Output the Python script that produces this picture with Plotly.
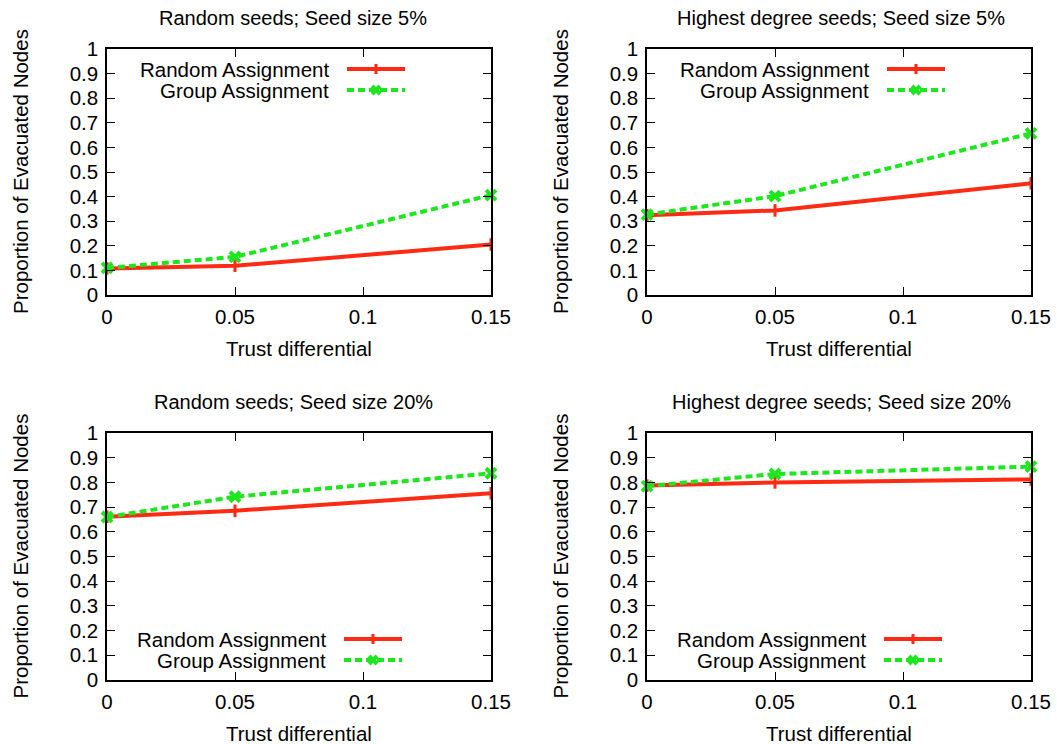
import plotly.graph_objects as go

# ---- data ----
trust = [0, 0.05, 0.15]
x_ticks = [0, 0.05, 0.1, 0.15]
x_tick_labels = ["0", "0.05", "0.1", "0.15"]
y_ticks = [0, 0.1, 0.2, 0.3, 0.4, 0.5, 0.6, 0.7, 0.8, 0.9, 1]
y_tick_labels = ["0", "0.1", "0.2", "0.3", "0.4", "0.5", "0.6", "0.7", "0.8", "0.9", "1"]

rand5_random = [0.108, 0.119, 0.205]
rand5_group = [0.110, 0.155, 0.406]
high5_random = [0.324, 0.344, 0.454]
high5_group = [0.327, 0.402, 0.657]
rand20_random = [0.661, 0.685, 0.756]
rand20_group = [0.660, 0.742, 0.837]
high20_random = [0.787, 0.800, 0.812]
high20_group = [0.785, 0.834, 0.864]

titles = ["Random seeds; Seed size 5%", "Highest degree seeds; Seed size 5%",
          "Random seeds; Seed size 20%", "Highest degree seeds; Seed size 20%"]
series_names = ["Random Assignment", "Group Assignment"]
x_title = "Trust differential"
y_title = "Proportion of Evacuated Nodes"

W, H = 1057, 744
RED = "#ff2a14"
GREEN = "#1ee61e"
FONT = "Liberation Sans, Arial, sans-serif"
FS = 20.5


def px(x):
    return x / W


def py(y):
    return 1 - y / H


# panel pixel boxes: (left, right, top, bottom)
boxes = [(107, 491, 49, 295), (647, 1031, 49, 295),
         (107, 491, 433, 680), (647, 1031, 433, 680)]
panel_data = [(rand5_random, rand5_group), (high5_random, high5_group),
              (rand20_random, rand20_group), (high20_random, high20_group)]
# legend anchor: (text right edge x, first row y)
legend_pos = [(331, 69), (871, 69), (328, 639), (868, 639)]
title_shift = [-6, 2, -6, 2]

fig = go.Figure()
annotations = []
shapes = []

for i, ((l, r, t, b), (rnd, grp)) in enumerate(zip(boxes, panel_data)):
    n = "" if i == 0 else str(i + 1)
    xa, ya = "x" + n, "y" + n
    fig.add_trace(go.Scatter(
        x=trust, y=rnd, xaxis=xa, yaxis=ya, mode="lines+markers",
        name=series_names[0], showlegend=False, cliponaxis=False,
        line=dict(color=RED, width=4),
        marker=dict(symbol="line-ns", size=9, color=RED, line=dict(color=RED, width=3))))
    fig.add_trace(go.Scatter(
        x=trust, y=grp, xaxis=xa, yaxis=ya, mode="lines+markers",
        name=series_names[1], showlegend=False, cliponaxis=False,
        line=dict(color=GREEN, width=4, dash="7px,4px"),
        marker=dict(symbol="x-thin", size=10, color=GREEN, line=dict(color=GREEN, width=4))))

    axis_common = dict(showline=True, linecolor="black", linewidth=1.5, mirror="ticks",
                       ticks="inside", ticklen=8, tickwidth=1.2, tickcolor="black",
                       showgrid=False, zeroline=False, automargin=False,
                       tickfont=dict(family=FONT, size=FS, color="black"))
    fig.update_layout(**{
        ("xaxis" + n): dict(domain=[px(l), px(r)], anchor=ya, range=[0, 0.15],
                            tickvals=x_ticks, ticktext=x_tick_labels,
                            ticklabelstandoff=3, **axis_common),
        ("yaxis" + n): dict(domain=[py(b), py(t)], anchor=xa, range=[0, 1],
                            tickvals=y_ticks, ticktext=y_tick_labels,
                            ticklabelstandoff=3, **axis_common),
    })

    cx = (l + r) / 2
    annotations.append(dict(text=titles[i], x=px(cx + title_shift[i]), y=py(t - 31),
                            xref="paper", yref="paper", showarrow=False,
                            xanchor="center", yanchor="middle",
                            font=dict(family=FONT, size=20, color="black")))
    annotations.append(dict(text=x_title, x=px(cx), y=py(b + 53), xref="paper", yref="paper",
                            showarrow=False, xanchor="center", yanchor="middle",
                            font=dict(family=FONT, size=FS, color="black")))
    annotations.append(dict(text=y_title, x=px(l - 87), y=py((t + b) / 2), xref="paper",
                            yref="paper", showarrow=False, textangle=-90,
                            xanchor="center", yanchor="middle",
                            font=dict(family=FONT, size=FS, color="black")))

    # gnuplot-style key: text then sample
    tx, ty = legend_pos[i]
    for k, (name, col) in enumerate(zip(series_names, [RED, GREEN])):
        yy = ty + 21 * k
        annotations.append(dict(text=name, x=px(tx), y=py(yy), xref="paper", yref="paper",
                                showarrow=False, xanchor="right", yanchor="middle",
                                font=dict(family=FONT, size=FS, color="black")))
        x0, x1 = tx + 16, tx + 74
        xm = (x0 + x1) / 2
        shapes.append(dict(type="line", xref="paper", yref="paper",
                           x0=px(x0), x1=px(x1), y0=py(yy), y1=py(yy),
                           line=dict(color=col, width=4, dash="solid" if k == 0 else "7px,4px")))
        if k == 0:
            shapes.append(dict(type="line", xref="paper", yref="paper",
                               x0=px(xm), x1=px(xm), y0=py(yy - 5), y1=py(yy + 5),
                               line=dict(color=col, width=3)))
        else:
            for s in (1, -1):
                shapes.append(dict(type="line", xref="paper", yref="paper",
                                   x0=px(xm - 4), x1=px(xm + 4), y0=py(yy - 4 * s),
                                   y1=py(yy + 4 * s), line=dict(color=col, width=4)))

fig.update_layout(template="none", width=W, height=H, margin=dict(l=0, r=0, t=0, b=0, pad=0),
                  paper_bgcolor="white", plot_bgcolor="white",
                  showlegend=False, annotations=annotations, shapes=shapes,
                  font=dict(family=FONT, color="black"))

fig.write_html("out.html",
               config={"displayModeBar": False},
               post_script="document.body.style.margin='0';"
                           "document.body.style.padding='0';"
                           "document.body.style.overflow='hidden';")
